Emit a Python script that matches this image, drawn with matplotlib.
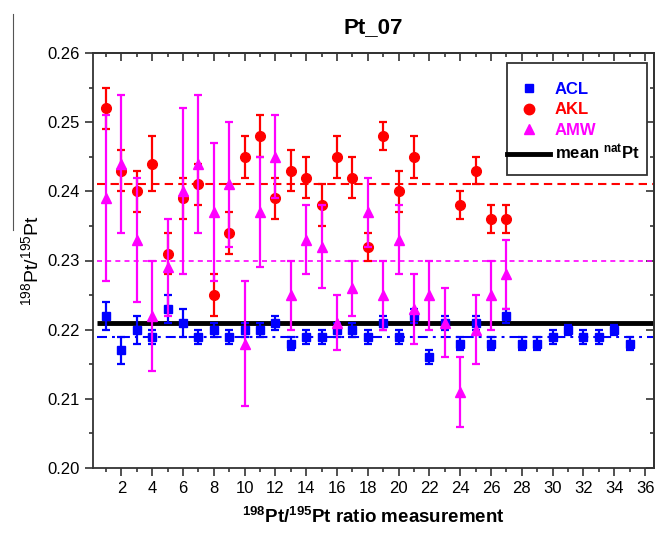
import numpy as np
import matplotlib
matplotlib.use("Agg")
import matplotlib.pyplot as plt
from matplotlib.lines import Line2D
from matplotlib.patches import Rectangle

plt.rcParams['font.family'] = ['Liberation Sans', 'DejaVu Sans']
plt.rcParams['mathtext.default'] = 'regular'

# ACL (blue squares)
acl_x = list(range(1, 36))
acl_y = [0.222, 0.217, 0.220, 0.219, 0.223, 0.221, 0.219, 0.220, 0.219, 0.220,
         0.220, 0.221, 0.218, 0.219, 0.219, 0.220, 0.220, 0.219, 0.221, 0.219,
         0.222, 0.216, 0.221, 0.218, 0.221, 0.218, 0.222, 0.218, 0.218, 0.219,
         0.220, 0.219, 0.219, 0.220, 0.218]
acl_err = [0.002, 0.002, 0.002, 0.001, 0.002, 0.002, 0.001, 0.001, 0.001, 0.001,
           0.001, 0.001, 0.001, 0.001, 0.001, 0.001, 0.001, 0.001, 0.001, 0.001,
           0.001, 0.001, 0.001, 0.001, 0.001, 0.001, 0.001, 0.001, 0.001, 0.001,
           0.0007, 0.001, 0.001, 0.0007, 0.001]

# AKL (red circles)
akl_x = list(range(1, 22)) + [24, 25, 26, 27]
akl_y = [0.252, 0.243, 0.240, 0.244, 0.231, 0.239, 0.241, 0.225, 0.234, 0.245,
         0.248, 0.239, 0.243, 0.242, 0.238, 0.245, 0.242, 0.232, 0.248, 0.240,
         0.245, 0.238, 0.243, 0.236, 0.236]
akl_err = [0.003, 0.003, 0.003, 0.004, 0.003, 0.003, 0.003, 0.003, 0.003, 0.003,
           0.003, 0.003, 0.003, 0.003, 0.003, 0.003, 0.003, 0.002, 0.002, 0.003,
           0.003, 0.002, 0.002, 0.002, 0.002]

# AMW (magenta triangles)
amw_x = list(range(1, 28))
amw_y = [0.239, 0.244, 0.233, 0.222, 0.229, 0.240, 0.244, 0.237, 0.241, 0.218,
         0.237, 0.245, 0.225, 0.233, 0.232, 0.221, 0.226, 0.237, 0.225, 0.233,
         0.223, 0.225, 0.221, 0.211, 0.220, 0.225, 0.228]
amw_err = [0.012, 0.010, 0.009, 0.008, 0.007, 0.012, 0.010, 0.010, 0.009, 0.009,
           0.008, 0.006, 0.005, 0.005, 0.006, 0.004, 0.004, 0.005, 0.005, 0.005,
           0.005, 0.005, 0.005, 0.005, 0.005, 0.005, 0.005]

# reference levels
mean_nat = 0.221
acl_mean = 0.219
akl_mean = 0.241
amw_mean = 0.230

BLUE = '#0000FF'
RED = '#FF0000'
MAG = '#FF00FF'

fig = plt.figure(figsize=(6.57, 5.34), dpi=100)
ax = fig.add_axes([93/657, 1 - 468/534, (654 - 93)/657, (468 - 53)/534])

x0, x1 = 0.4, 36.5
ax.hlines(akl_mean, x0, x1, colors=RED, lw=1.5, linestyles=(0, (4, 2.5)), zorder=1)
ax.hlines(amw_mean, x0, x1, colors=MAG, lw=1.2, linestyles=(0, (3, 2.5)), zorder=1)
ax.hlines(acl_mean, x0, x1, colors=BLUE, lw=1.5, linestyles=(0, (4.8, 2.4, 1.4, 2.4)), zorder=1)
ax.hlines(mean_nat, x0, x1, colors='black', lw=3.5, zorder=2)

ax.errorbar(acl_x, acl_y, yerr=acl_err, fmt='s', color=BLUE, ms=5.5, elinewidth=1.6,
            capsize=3, capthick=1.6, zorder=3)
ax.errorbar(akl_x, akl_y, yerr=akl_err, fmt='o', color=RED, ms=7, elinewidth=1.6,
            capsize=3, capthick=1.6, zorder=3)
ax.errorbar(amw_x, amw_y, yerr=amw_err, fmt='^', color=MAG, ms=7, elinewidth=1.6,
            capsize=3, capthick=1.6, zorder=4)

ax.set_xlim(0.15, 36.58)
ax.set_ylim(0.20, 0.26)
ax.set_xticks(np.arange(2, 37, 2))
ax.set_xticks(np.arange(1, 37, 2), minor=True)
ax.set_yticks(np.arange(0.20, 0.2601, 0.01))
ax.set_yticks(np.arange(0.205, 0.26, 0.01), minor=True)
ax.set_yticklabels(['%.2f' % v for v in np.arange(0.20, 0.2601, 0.01)])
ax.tick_params(which='both', direction='out', labelsize=12, width=1.2, color='#333333')
ax.tick_params(which='major', length=6, pad=3.5)
ax.tick_params(which='minor', length=3)

secx = ax.secondary_xaxis('top')
secx.set_xticks(np.arange(2, 37, 2))
secx.set_xticks(np.arange(1, 37, 2), minor=True)
secx.tick_params(which='both', direction='in', labeltop=False, width=1.2, color='#333333')
secx.tick_params(which='major', length=6)
secx.tick_params(which='minor', length=3)
secy = ax.secondary_yaxis('right')
secy.set_yticks(np.arange(0.20, 0.2601, 0.01))
secy.set_yticks(np.arange(0.205, 0.26, 0.01), minor=True)
secy.tick_params(which='both', direction='in', labelright=False, width=1.2, color='#333333')
secy.tick_params(which='major', length=6)
secy.tick_params(which='minor', length=3)

for a in (ax, secx, secy):
    for s in a.spines.values():
        s.set_linewidth(1.3)
        s.set_color('#333333')

ax.set_title('Pt_07', fontsize=16, fontweight='bold', pad=14)
ax.set_xlabel(r'$^{198}$Pt/$^{195}$Pt ratio measurement', fontsize=13.5, fontweight='bold', labelpad=8)
ax.set_ylabel(r'$^{198}$Pt/$^{195}$Pt', fontsize=14, labelpad=4)

handles = [
    Line2D([], [], marker='s', ls='none', color=BLUE, ms=6),
    Line2D([], [], marker='o', ls='none', color=RED, ms=7.5),
    Line2D([], [], marker='^', ls='none', color=MAG, ms=7.5),
    Line2D([], [], color='black', lw=3.5),
]
labels = ['ACL', 'AKL', 'AMW', r'mean $^{nat}$Pt']
leg = ax.legend(handles, labels, loc='upper left', bbox_to_anchor=(0.738, 0.930),
                frameon=False, handlelength=2.6, handletextpad=0.25, borderpad=0,
                labelspacing=0.32, borderaxespad=0,
                prop={'size': 12, 'weight': 'bold'})
leg.set_zorder(6)
for t, c in zip(leg.get_texts(), [BLUE, RED, MAG, 'black']):
    t.set_color(c)
ax.add_patch(Rectangle((0.738, 0.706), 0.9875 - 0.738, 0.976 - 0.706, transform=ax.transAxes,
                       facecolor='white', edgecolor='#333333', lw=1.3, zorder=5))

# thin vertical line at the left edge of the original picture
fig.add_artist(Line2D([13/657, 13/657], [1 - 230/534, 1 - 14/534], color='#555555', lw=0.8))

fig.savefig('out.png', dpi=100)
